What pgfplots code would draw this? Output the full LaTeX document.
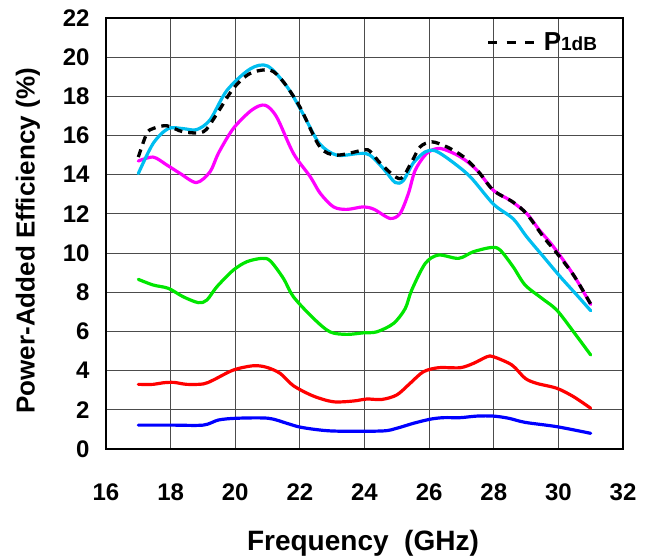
\documentclass[border=0pt]{standalone}
\usepackage{fontspec}
\setmainfont{Liberation Sans}
\usepackage{pgfplots}
\pgfplotsset{compat=1.18}
\definecolor{ccyan}{RGB}{0,190,240}
\definecolor{cmag}{RGB}{255,0,255}
\definecolor{cgreen}{RGB}{0,230,0}
\definecolor{cred}{RGB}{255,0,0}
\definecolor{cblue}{RGB}{0,0,255}
\begin{document}
\begin{tikzpicture}[x=1pt,y=1pt]
\useasboundingbox (0,0) rectangle (653,555);
\begin{axis}[
  at={(106pt,106pt)}, anchor=south west,
  width=517pt, height=431pt, scale only axis,
  xmin=16, xmax=32, ymin=0, ymax=22,
  xtick={16,18,20,22,24,26,28,30,32}, ytick={0,2,4,6,8,10,12,14,16,18,20,22},
  xticklabels={\textbf{16},\textbf{18},\textbf{20},\textbf{22},\textbf{24},\textbf{26},\textbf{28},\textbf{30},\textbf{32}},
  yticklabels={\textbf{0},\textbf{2},\textbf{4},\textbf{6},\textbf{8},\textbf{10},\textbf{12},\textbf{14},\textbf{16},\textbf{18},\textbf{20},\textbf{22}},
  grid=major,
  major grid style={draw=black!70, line width=1.1pt},
  axis line style={line width=1.4pt},
  tick style={draw=none},
  tick label style={font=\bfseries\fontsize{24}{24}\selectfont},
  xticklabel style={yshift=-31pt},
  yticklabel style={xshift=-13pt},
  xlabel={Frequency\ \ (GHz)},
  ylabel={Power-Added Efficiency (\%)},
  every axis x label/.style={at={(axis description cs:0.497,-0.219)}, anchor=center, font=\bfseries\fontsize{28}{28}\selectfont},
  every axis y label/.style={at={(axis description cs:-0.151,0.483)}, anchor=center, rotate=90, font=\bfseries\fontsize{26}{26}\selectfont},
  legend style={at={(rel axis cs:1,1)}, anchor=north east, xshift=-24pt, yshift=-13pt,
    draw=none, fill=none, font=\bfseries\fontsize{26}{26}\selectfont,
    inner sep=0pt, outer sep=0pt},
  legend cell align=left,
  legend image code/.code={\draw[black, line width=3.5pt, dash pattern=on 9pt off 9.5pt] (0pt,0pt) -- (46pt,0pt);},
  every axis plot/.append style={line width=3.2pt, line join=round, line cap=round},
]
\addplot[cblue, smooth, tension=0.5, forget plot] coordinates {
(17.0,1.22) (18.0,1.22) (19.01,1.22) (19.48,1.48) (20.05,1.57) (21.02,1.57) (21.6,1.31) (22.06,1.1) (22.99,0.92) (24.54,0.92) (25.0,1.06) (25.51,1.31) (26.03,1.52) (26.44,1.6) (26.96,1.6) (27.48,1.68) (27.99,1.68) (28.46,1.57) (28.97,1.36) (29.95,1.14) (31.0,0.8)};
\addplot[cred, smooth, tension=0.5, forget plot] coordinates {
(17.0,3.3) (17.46,3.3) (17.77,3.38) (18.1,3.4) (18.5,3.3) (19.01,3.32) (19.32,3.52) (19.94,4.03) (20.56,4.25) (20.97,4.17) (21.39,3.86) (21.8,3.23) (22.42,2.7) (23.04,2.41) (23.66,2.45) (24.07,2.55) (24.54,2.53) (25.0,2.76) (25.41,3.35) (25.82,3.94) (26.29,4.15) (26.96,4.15) (27.37,4.37) (27.79,4.71) (27.99,4.71) (28.56,4.29) (28.97,3.61) (29.33,3.35) (29.95,3.1) (30.47,2.67) (31.0,2.08)};
\addplot[cgreen, smooth, tension=0.5, forget plot] coordinates {
(17.0,8.66) (17.46,8.37) (17.93,8.2) (18.39,7.77) (18.86,7.47) (19.12,7.6) (19.43,8.28) (19.94,9.13) (20.36,9.56) (20.82,9.73) (21.08,9.61) (21.49,8.71) (21.8,7.77) (22.42,6.67) (22.93,5.98) (23.45,5.85) (23.97,5.93) (24.38,5.98) (24.9,6.41) (25.26,7.17) (25.46,8.11) (25.88,9.47) (26.29,9.9) (26.91,9.73) (27.37,10.07) (27.94,10.29) (28.2,10.15) (28.6,9.3) (28.97,8.37) (29.49,7.69) (29.95,7.09) (30.47,5.98) (31.0,4.8)};
\addplot[cmag, smooth, tension=0.5, forget plot] coordinates {
(17.0,14.7) (17.46,14.9) (17.88,14.5) (18.29,14.07) (18.8,13.6) (19.22,14.15) (19.48,15.1) (19.94,16.36) (20.51,17.3) (20.92,17.55) (21.28,16.95) (21.8,15.09) (22.32,13.9) (22.63,13.05) (23.04,12.36) (23.45,12.23) (23.97,12.36) (24.3,12.23) (24.79,11.77) (25.1,12.02) (25.36,13.05) (25.57,14.23) (25.93,15.09) (26.34,15.34) (26.96,14.92) (27.48,14.23) (27.99,13.2) (28.5,12.7) (29.02,12.02) (29.4,11.2) (29.85,10.32) (30.47,8.88) (31.0,7.38)};
\addplot[ccyan, smooth, tension=0.5, forget plot] coordinates {
(17.0,14.06) (17.46,15.6) (17.93,16.36) (18.4,16.35) (18.8,16.3) (19.22,16.8) (19.74,18.3) (20.46,19.4) (21.0,19.55) (21.6,18.5) (22.1,17.1) (22.6,15.6) (23.14,15.0) (23.86,15.09) (24.17,15.0) (24.59,14.3) (24.95,13.6) (25.2,13.7) (25.51,14.6) (25.88,15.17) (26.19,15.22) (26.65,14.74) (27.27,13.9) (27.99,12.5) (28.6,11.75) (29.02,10.83) (29.54,9.81) (30.06,8.79) (30.57,7.86) (31.0,7.06)};
\addplot[black, smooth, tension=0.5, line width=3.3pt, line cap=butt, dash pattern=on 8pt off 6pt] coordinates {
(17.0,14.9) (17.26,16.1) (17.46,16.36) (17.88,16.5) (18.39,16.19) (19.01,16.19) (19.37,16.95) (19.94,18.4) (20.46,19.17) (21.08,19.34) (21.49,18.74) (22.0,17.46) (22.62,15.42) (23.14,15.0) (23.97,15.26) (24.17,15.2) (24.54,14.5) (25.1,13.8) (25.46,14.66) (25.72,15.42) (26.08,15.68) (26.55,15.42) (27.06,14.92) (27.53,14.15) (27.99,13.2) (28.6,12.6) (29.02,12.0) (29.55,10.8) (30.0,9.9) (30.5,8.8) (31.0,7.4)};
\addlegendentry{\hspace{6pt}P{\fontsize{19}{19}\selectfont 1dB}}
\end{axis}
\end{tikzpicture}
\end{document}
